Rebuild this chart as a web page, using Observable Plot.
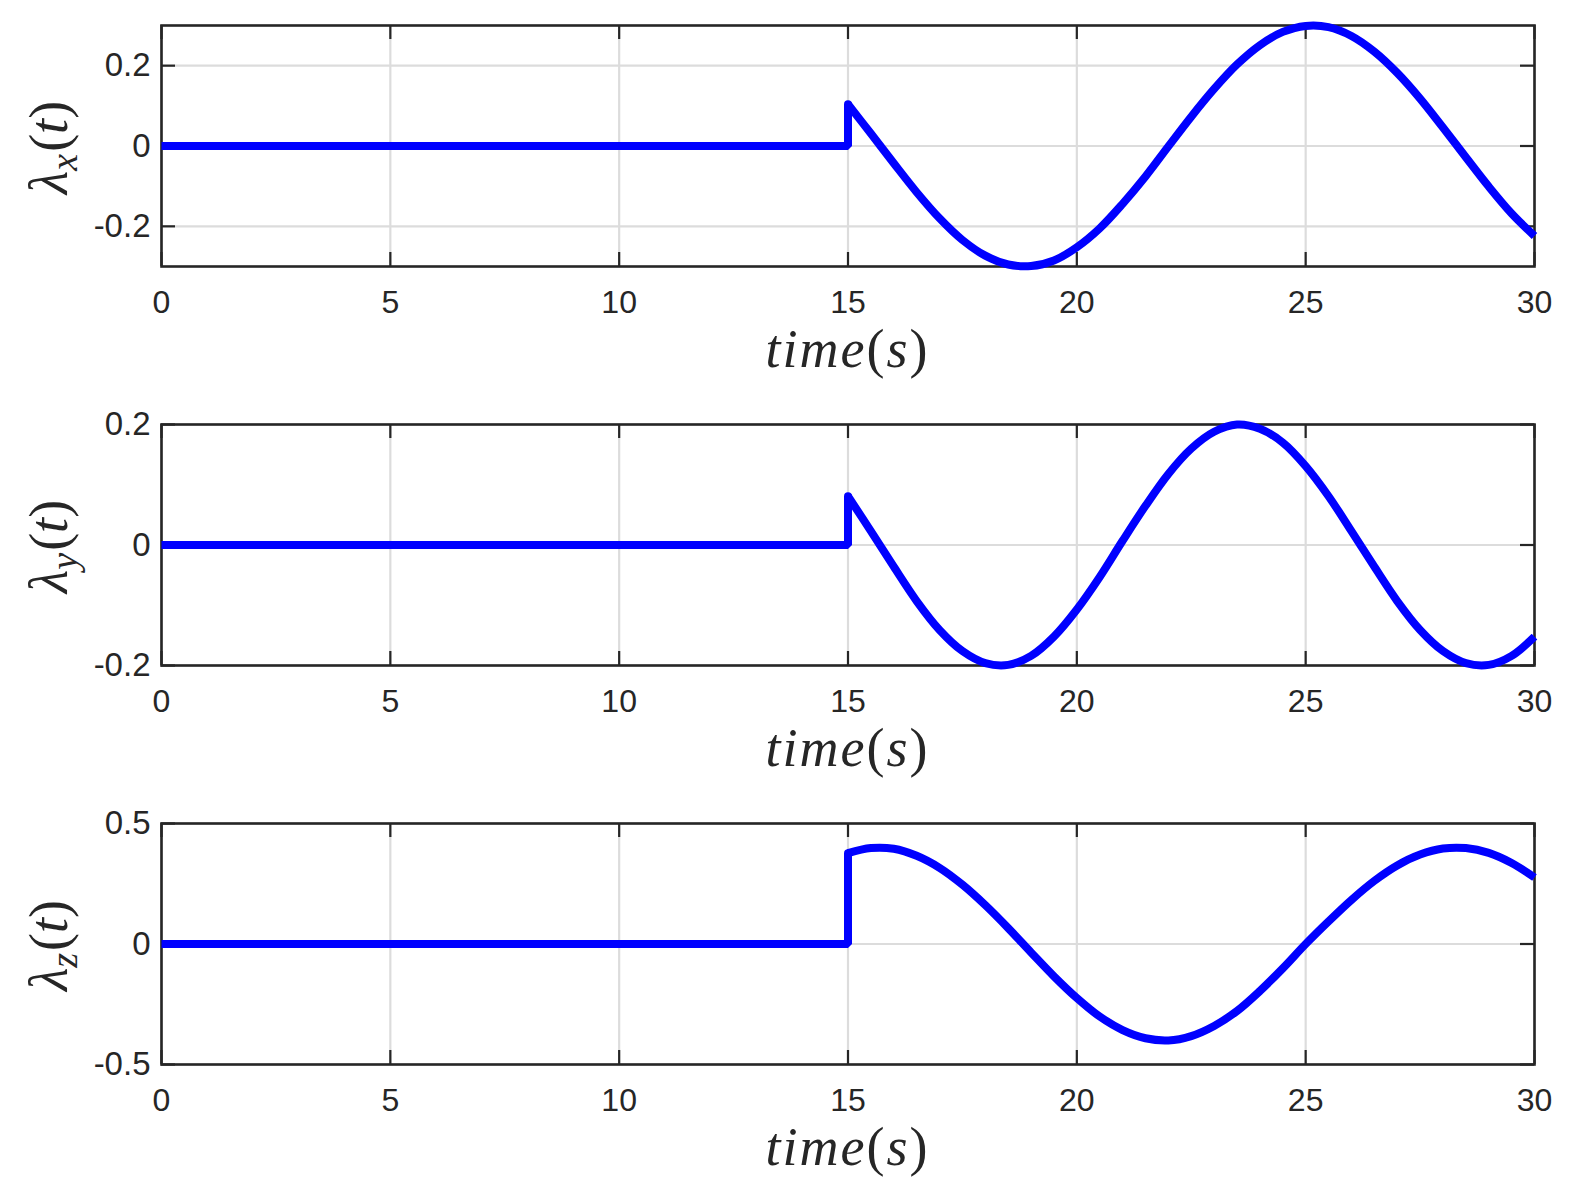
<!DOCTYPE html>
<html>
<head>
<meta charset="utf-8">
<script src="https://cdn.jsdelivr.net/npm/d3@7"></script>
<script src="https://cdn.jsdelivr.net/npm/@observablehq/plot@0.6"></script>
<style>
html, body { margin: 0; padding: 0; background: #ffffff; }
#chart { width: 1571px; height: 1197px; }
#chart svg { display: block; }
</style>
</head>
<body>
<div id="chart"></div>
<script>
// ---- data ----
const timeTicks = [0, 5, 10, 15, 20, 25, 30];
const timeTickLabels = ["0", "5", "10", "15", "20", "25", "30"];

// before the switch time the multipliers stay at zero
const tPre = [0, 15];
const vPre = [0, 0];

// after the switch (t = 15 s … 30 s)
const tPost = [15, 15.5, 16, 16.5, 17, 17.5, 18, 18.5, 19, 19.5, 20, 20.5, 21, 21.5, 22, 22.5,
               23, 23.5, 24, 24.5, 25, 25.5, 26, 26.5, 27, 27.5, 28, 28.5, 29, 29.5, 30];

const lambdaX = [0.104, 0.031, -0.043, -0.115, -0.180, -0.234, -0.273, -0.295, -0.299, -0.285,
                 -0.252, -0.205, -0.144, -0.076, -0.001, 0.073, 0.142, 0.203, 0.251, 0.284,
                 0.299, 0.296, 0.274, 0.235, 0.182, 0.118, 0.046, -0.028, -0.101, -0.168, -0.224];

const lambdaY = [0.081, 0.023, -0.036, -0.093, -0.141, -0.176, -0.196, -0.199, -0.184, -0.152,
                 -0.107, -0.053, 0.007, 0.065, 0.118, 0.160, 0.188, 0.200, 0.193, 0.170,
                 0.131, 0.081, 0.023, -0.036, -0.093, -0.141, -0.176, -0.196, -0.199, -0.184, -0.152];

const lambdaZ = [0.377, 0.398, 0.395, 0.366, 0.316, 0.246, 0.161, 0.066, -0.035, -0.134,
                 -0.224, -0.301, -0.357, -0.391, -0.400, -0.382, -0.340, -0.278, -0.195, -0.101,
                 0.000, 0.094, 0.183, 0.262, 0.326, 0.371, 0.396, 0.398, 0.378, 0.336, 0.276];

const yTicksX = [-0.2, 0, 0.2];
const yTickLabelsX = ["-0.2", "0", "0.2"];
const yTicksY = [-0.2, 0, 0.2];
const yTickLabelsY = ["-0.2", "0", "0.2"];
const yTicksZ = [-0.5, 0, 0.5];
const yTickLabelsZ = ["-0.5", "0", "0.5"];

const subscripts = ["x", "y", "z"];
const xLabel = "time(s)";

// ---- layout ----
const W = 1571, H = 399;
const mL = 161, mR = 37, mT = 25, mB = 133;
const fw = W - mL - mR, fh = H - mT - mB;
const TICK = 14;
const INK = "#262626";
const GRID = "#dcdcdc";
const BLUE = "#0000ff";

const panels = [
  {sub: subscripts[0], values: lambdaX, domain: [-0.3, 0.3], ticks: yTicksX, labels: yTickLabelsX},
  {sub: subscripts[1], values: lambdaY, domain: [-0.2, 0.2], ticks: yTicksY, labels: yTickLabelsY},
  {sub: subscripts[2], values: lambdaZ, domain: [-0.5, 0.5], ticks: yTicksZ, labels: yTickLabelsZ}
];

const chart = document.getElementById("chart");

for (const p of panels) {
  const pre = tPre.map((t, i) => ({t, v: vPre[i]}));
  pre.push({t: tPost[0], v: p.values[0]});
  const post = tPost.map((t, i) => ({t, v: p.values[i]}));

  const svg = Plot.plot({
    width: W,
    height: H,
    marginLeft: mL,
    marginRight: mR,
    marginTop: mT,
    marginBottom: mB,
    style: {fontFamily: "'Liberation Sans', Arial, sans-serif", fontSize: "32px", color: INK, background: "#ffffff"},
    x: {domain: [0, 30]},
    y: {domain: p.domain},
    marks: [
      Plot.gridX(timeTicks, {stroke: GRID, strokeOpacity: 1, strokeWidth: 2.2}),
      Plot.gridY(p.ticks, {stroke: GRID, strokeOpacity: 1, strokeWidth: 2.2}),
      Plot.frame({stroke: INK, strokeWidth: 2.6}),
      Plot.tickX(timeTicks, {x: d => d, stroke: INK, strokeWidth: 2.2, insetTop: fh - TICK}),
      Plot.tickX(timeTicks, {x: d => d, stroke: INK, strokeWidth: 2.2, insetBottom: fh - TICK}),
      Plot.tickY(p.ticks, {y: d => d, stroke: INK, strokeWidth: 2.2, insetRight: fw - TICK}),
      Plot.tickY(p.ticks, {y: d => d, stroke: INK, strokeWidth: 2.2, insetLeft: fw - TICK}),
      Plot.axisX(timeTicks, {
        tickSize: 0, tickPadding: 24, label: null, fontSize: 32, fill: INK,
        tickFormat: d => timeTickLabels[timeTicks.indexOf(d)]
      }),
      Plot.axisY(p.ticks, {
        tickSize: 0, tickPadding: 11, label: null, fontSize: 33, fill: INK,
        tickFormat: d => p.labels[p.ticks.indexOf(d)]
      }),
      Plot.line(pre, {x: "t", y: "v", stroke: BLUE, strokeWidth: 8, strokeLinecap: "butt", strokeLinejoin: "miter", curve: "linear"}),
      Plot.line(post, {x: "t", y: "v", stroke: BLUE, strokeWidth: 8, strokeLinecap: "butt", strokeLinejoin: "round", curve: "catmull-rom"}),
      Plot.dot(post.slice(0, 1), {x: "t", y: "v", r: 4, fill: BLUE, stroke: "none"})
    ]
  });

  const s = d3.select(svg);
  // y-axis label  λ_sub(t)
  const yl = s.append("text")
    .attr("transform", `translate(67,${mT + fh / 2 + 2}) rotate(-90)`)
    .attr("text-anchor", "middle")
    .attr("font-family", "'Liberation Serif', 'Times New Roman', serif")
    .attr("font-size", 54)
    .attr("fill", INK);
  yl.append("tspan").attr("font-style", "italic").text("λ");
  yl.append("tspan").attr("font-style", "italic").attr("font-size", 38).attr("dy", 10).text(p.sub);
  yl.append("tspan").attr("dy", -10).attr("dx", 2).text("(");
  yl.append("tspan").attr("font-style", "italic").text("t");
  yl.append("tspan").text(")");

  // x-axis label  time(s)
  const xl = s.append("text")
    .attr("x", mL + fw / 2)
    .attr("y", 367)
    .attr("text-anchor", "middle")
    .attr("font-family", "'Liberation Serif', 'Times New Roman', serif")
    .attr("font-size", 54)
    .attr("letter-spacing", 2)
    .attr("fill", INK);
  const m = xLabel.match(/^(\w+)\((\w+)\)$/);
  xl.append("tspan").attr("font-style", "italic").text(m[1]);
  xl.append("tspan").text("(");
  xl.append("tspan").attr("font-style", "italic").text(m[2]);
  xl.append("tspan").text(")");

  chart.appendChild(svg);
}
</script>
</body>
</html>
